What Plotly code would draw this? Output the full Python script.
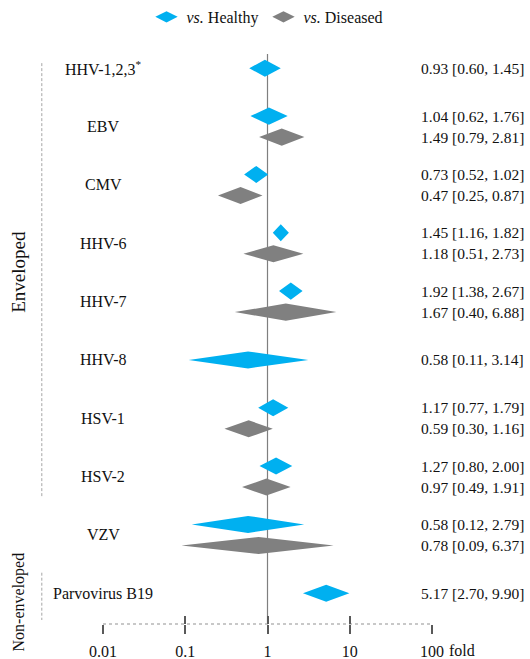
import plotly.graph_objects as go

# ---------------- data ----------------
viruses = ["HHV-1,2,3<sup>*</sup>", "EBV", "CMV", "HHV-6", "HHV-7", "HHV-8",
           "HSV-1", "HSV-2", "VZV", "Parvovirus B19"]
healthy_est = [0.93, 1.04, 0.73, 1.45, 1.92, 0.58, 1.17, 1.27, 0.58, 5.17]
healthy_lo = [0.60, 0.62, 0.52, 1.16, 1.38, 0.11, 0.77, 0.80, 0.12, 2.70]
healthy_hi = [1.45, 1.76, 1.02, 1.82, 2.67, 3.14, 1.79, 2.00, 2.79, 9.90]
diseased_est = [None, 1.49, 0.47, 1.18, 1.67, None, 0.59, 0.97, 0.78, None]
diseased_lo = [None, 0.79, 0.25, 0.51, 0.40, None, 0.30, 0.49, 0.09, None]
diseased_hi = [None, 2.81, 0.87, 2.73, 6.88, None, 1.16, 1.91, 6.37, None]
tick_vals = [0.01, 0.1, 1, 10, 100]
tick_text = ["0.01", "0.1", "1", "10", "100"]
group_names = ["Enveloped", "Non-enveloped"]

# ---------------- style ----------------
BLUE = "#00B0F0"
GREY = "#808080"
FONT = "Liberation Serif"
TXT = "#111111"
PAIR_OFF = 0.18
HALF_H = 0.146

def diamonds(est, lo, hi, offsets):
    xs, ys = [], []
    for i, (e, l, h) in enumerate(zip(est, lo, hi)):
        if e is None:
            continue
        c = i + offsets[i]
        xs += [l, e, h, e, l, None]
        ys += [c, c - HALF_H, c, c + HALF_H, c, None]
    return xs, ys

h_off = [(-PAIR_OFF if diseased_est[i] is not None else 0.0) for i in range(len(viruses))]
d_off = [PAIR_OFF] * len(viruses)

fig = go.Figure()
hx, hy = diamonds(healthy_est, healthy_lo, healthy_hi, h_off)
dx, dy = diamonds(diseased_est, diseased_lo, diseased_hi, d_off)
fig.add_trace(go.Scatter(x=hx, y=hy, mode="lines", fill="toself", fillcolor=BLUE,
                         line=dict(width=0, color=BLUE), showlegend=False, hoverinfo="skip"))
fig.add_trace(go.Scatter(x=dx, y=dy, mode="lines", fill="toself", fillcolor=GREY,
                         line=dict(width=0, color=GREY), showlegend=False, hoverinfo="skip"))
# legend entries
fig.add_trace(go.Scatter(x=[None], y=[None], mode="markers", name="<i>vs.</i> Healthy",
                         marker=dict(symbol="diamond-wide", size=17, color=BLUE)))
fig.add_trace(go.Scatter(x=[None], y=[None], mode="markers", name="<i>vs.</i> Diseased",
                         marker=dict(symbol="diamond-wide", size=17, color=GREY)))
# helper trace for the upward ticks axis
fig.add_trace(go.Scatter(x=[0.01, 100], y=[None, None], xaxis="x2", yaxis="y",
                         mode="markers", showlegend=False, hoverinfo="skip"))

ann = []
for i, name in enumerate(viruses):
    ann.append(dict(x=0, xref="paper", y=i, yref="y", text=name, showarrow=False,
                    xanchor="center", yanchor="middle",
                    font=dict(family=FONT, size=16, color=TXT)))
    rows = [(healthy_est[i], healthy_lo[i], healthy_hi[i], i + h_off[i])]
    if diseased_est[i] is not None:
        rows.append((diseased_est[i], diseased_lo[i], diseased_hi[i], i + d_off[i]))
    for e, l, h, yy in rows:
        ann.append(dict(x=1.285, xref="paper", y=yy, yref="y",
                        text=f"{e:.2f} [{l:.2f}, {h:.2f}]", showarrow=False,
                        xanchor="right", yanchor="middle",
                        font=dict(family=FONT, size=15.5, color=TXT)))

ann.append(dict(x=-0.255, xref="paper", y=0.618, yref="paper", text=group_names[0],
                textangle=-90, showarrow=False, xanchor="center", yanchor="middle",
                font=dict(family=FONT, size=19, color=TXT)))
ann.append(dict(x=-0.255, xref="paper", y=0.038, yref="paper", text=group_names[1],
                textangle=-90, showarrow=False, xanchor="center", yanchor="middle",
                font=dict(family=FONT, size=16, color=TXT)))
ann.append(dict(x=2, xref="x", y=0, yref="paper", text="fold", showarrow=False,
                xanchor="left", yanchor="top", xshift=15, yshift=-16,
                font=dict(family=FONT, size=16, color=TXT)))

shapes = [
    dict(type="line", xref="x", yref="y domain", x0=1, x1=1, y0=0, y1=1,
         line=dict(color="#7F7F7F", width=1.2), layer="below"),
    dict(type="line", xref="x", yref="y domain", x0=0.01, x1=100, y0=0, y1=0,
         line=dict(color="#C8C8C8", width=2, dash="dot"), layer="below"),
    dict(type="line", xref="paper", yref="paper", x0=-0.186, x1=-0.186, y0=0.984, y1=0.221,
         line=dict(color="#A6A6A6", width=1, dash="3px,2px")),
    dict(type="line", xref="paper", yref="paper", x0=-0.186, x1=-0.186, y0=0.09, y1=0.007,
         line=dict(color="#A6A6A6", width=1, dash="3px,2px")),
]

fig.update_layout(
    width=530, height=659,
    margin=dict(l=103, r=98, t=54, b=35, autoexpand=False),
    paper_bgcolor="white", plot_bgcolor="white",
    font=dict(family=FONT, size=16, color=TXT),
    showlegend=True,
    legend=dict(orientation="h", x=0.5, xanchor="center", y=1.065, yanchor="middle",
                font=dict(family=FONT, size=16, color=TXT), itemsizing="trace",
                bgcolor="rgba(0,0,0,0)", tracegroupgap=0, itemwidth=30),
    xaxis=dict(type="log", range=[-2, 2], tickvals=tick_vals, ticktext=tick_text,
               ticks="outside", ticklen=9, tickwidth=2, tickcolor="#595959",
               ticklabelstandoff=4,
               showgrid=False, zeroline=False, showline=False, automargin=False,
               tickfont=dict(family=FONT, size=16, color=TXT)),
    xaxis2=dict(type="log", range=[-2, 2], overlaying="x", anchor="y", side="bottom",
                tickvals=tick_vals, showticklabels=False, automargin=False,
                ticks="inside", ticklen=8, tickwidth=2, tickcolor="#595959",
                showgrid=False, zeroline=False, showline=False),
    yaxis=dict(range=[9.527, -0.245], visible=False, showgrid=False, zeroline=False,
               automargin=False),
    annotations=ann, shapes=shapes,
)

fig.write_html("out.html")
